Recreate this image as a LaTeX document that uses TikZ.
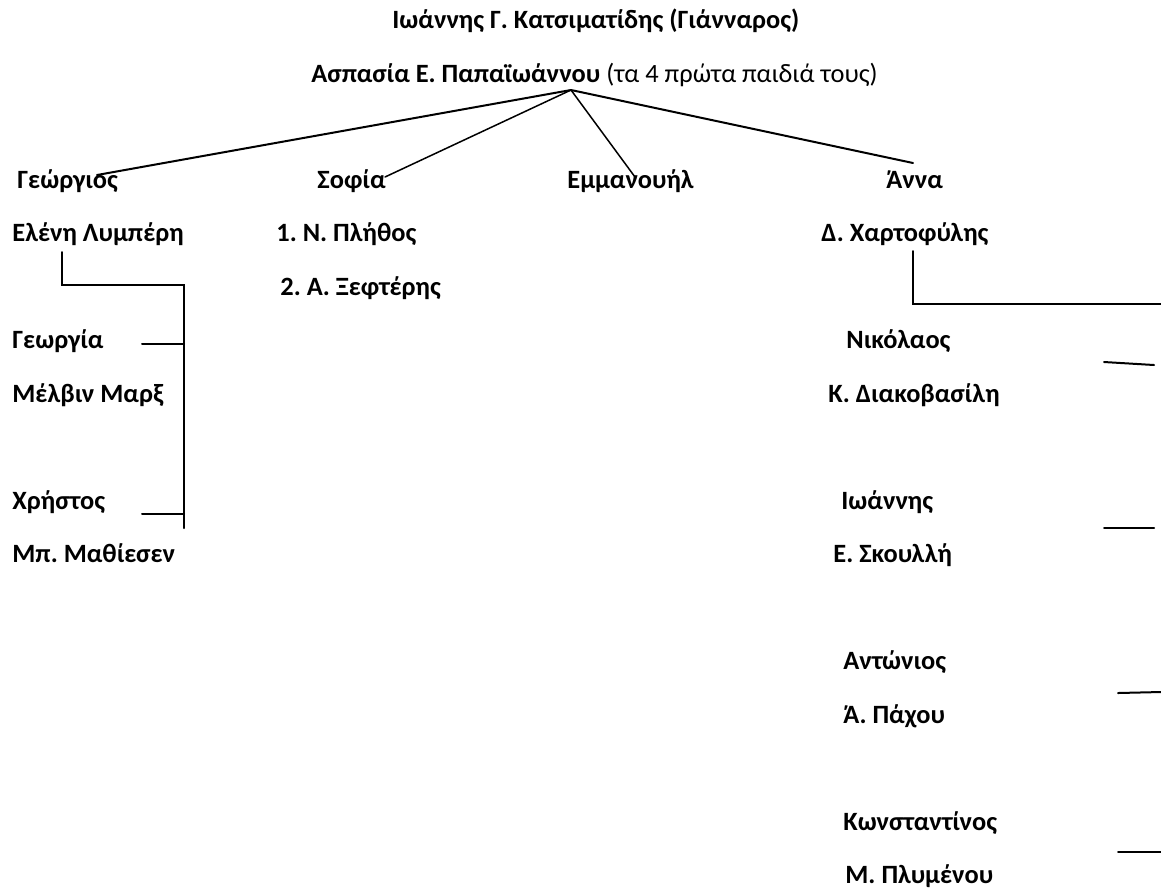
\documentclass[tikz,border=0pt]{standalone}
\usepackage{fontspec}
\setmainfont{Carlito}
\frenchspacing
\begin{document}
\begin{tikzpicture}[x=0.5pt,y=-0.5pt,
  lbl/.style={anchor=base west,inner sep=0pt,font=\fontsize{13.2}{15}\selectfont\bfseries},
  conn/.style={line width=1pt,line cap=round},
  thinconn/.style={line width=0.75pt,line cap=round}]
\useasboundingbox (0,0) rectangle (1161,891);
% title
\node[lbl] (t1) at (392,28) {Ιωάννης Γ. Κατσιματίδης (Γιάνναρος)};
\node[lbl] (t2) at (311,82) {Ασπασία Ε. Παπαϊωάννου \mdseries(τα 4 πρώτα παιδιά τους)};
% row 0
\node[lbl] (geo) at (17,188) {Γεώργιος};
\node[lbl] (sof) at (317,188) {Σοφία};
\node[lbl] (emm) at (567,188) {Εμμανουήλ};
\node[lbl] (ann) at (886,188) {Άννα};
% row 1
\node[lbl] (ele) at (12,241.5) {Ελένη Λυμπέρη};
\node[lbl] (pli) at (276,241.5) {1. Ν. Πλήθος};
\node[lbl] (xar) at (821,241.5) {Δ. Χαρτοφύλης};
\node[lbl] (kse) at (280,295) {2. Α. Ξεφτέρης};
% left children
\node[lbl] (gia) at (12,348.5) {Γεωργία};
\node[lbl] (mel) at (12,402) {Μέλβιν Μαρξ};
\node[lbl] (xri) at (12,509) {Χρήστος};
\node[lbl] (mat) at (12,562.5) {Μπ. Μαθίεσεν};
% right children
\node[lbl] (nik) at (846,348.5) {Νικόλαος};
\node[lbl] (dia) at (828,402) {Κ. Διακοβασίλη};
\node[lbl] (ioa) at (841,509) {Ιωάννης};
\node[lbl] (sko) at (833,562.5) {Ε. Σκουλλή};
\node[lbl] (ant) at (843,669.5) {Αντώνιος};
\node[lbl] (pax) at (843,723) {Ά. Πάχου};
\node[lbl] (kon) at (843,830) {Κωνσταντίνος};
\node[lbl] (ply) at (845,883.5) {Μ. Πλυμένου};
% connector points
\coordinate (apex) at (571,90);
\coordinate (geoE) at (97,175);
\coordinate (sofE) at (385,177);
\coordinate (emmE) at (635,177);
\coordinate (annE) at (913,163);
\draw[conn] (apex) -- (geoE);
\draw[thinconn] (apex) -- (sofE);
\draw[thinconn] (apex) -- (emmE);
\draw[conn] (apex) -- (annE);
% left family
\coordinate (eleB) at (62,252);
\coordinate (eleC) at (62,285);
\coordinate (barT) at (184,285);
\coordinate (barB) at (184,528);
\coordinate (giaE) at (142,344);
\coordinate (giaB) at (184,344);
\coordinate (xriE) at (142,514);
\coordinate (xriB) at (184,514);
\draw[conn] (eleB) -- (eleC) -- (barT) -- (barB);
\draw[conn] (giaE) -- (giaB);
\draw[conn] (xriE) -- (xriB);
% right family
\coordinate (xarB) at (913,251);
\coordinate (xarC) at (913,304);
\coordinate (rEdge) at (1161,304);
\draw[conn] (xarB) -- (xarC) -- (rEdge);
\coordinate (nikA) at (1104,362);
\coordinate (nikB) at (1154,365);
\coordinate (ioaA) at (1104,528);
\coordinate (ioaB) at (1154,528);
\coordinate (antA) at (1118,693);
\coordinate (antB) at (1161,692);
\coordinate (konA) at (1118,852);
\coordinate (konB) at (1161,852);
\draw[conn] (nikA) -- (nikB);
\draw[conn] (ioaA) -- (ioaB);
\draw[conn] (antA) -- (antB);
\draw[conn] (konA) -- (konB);
\end{tikzpicture}
\end{document}
